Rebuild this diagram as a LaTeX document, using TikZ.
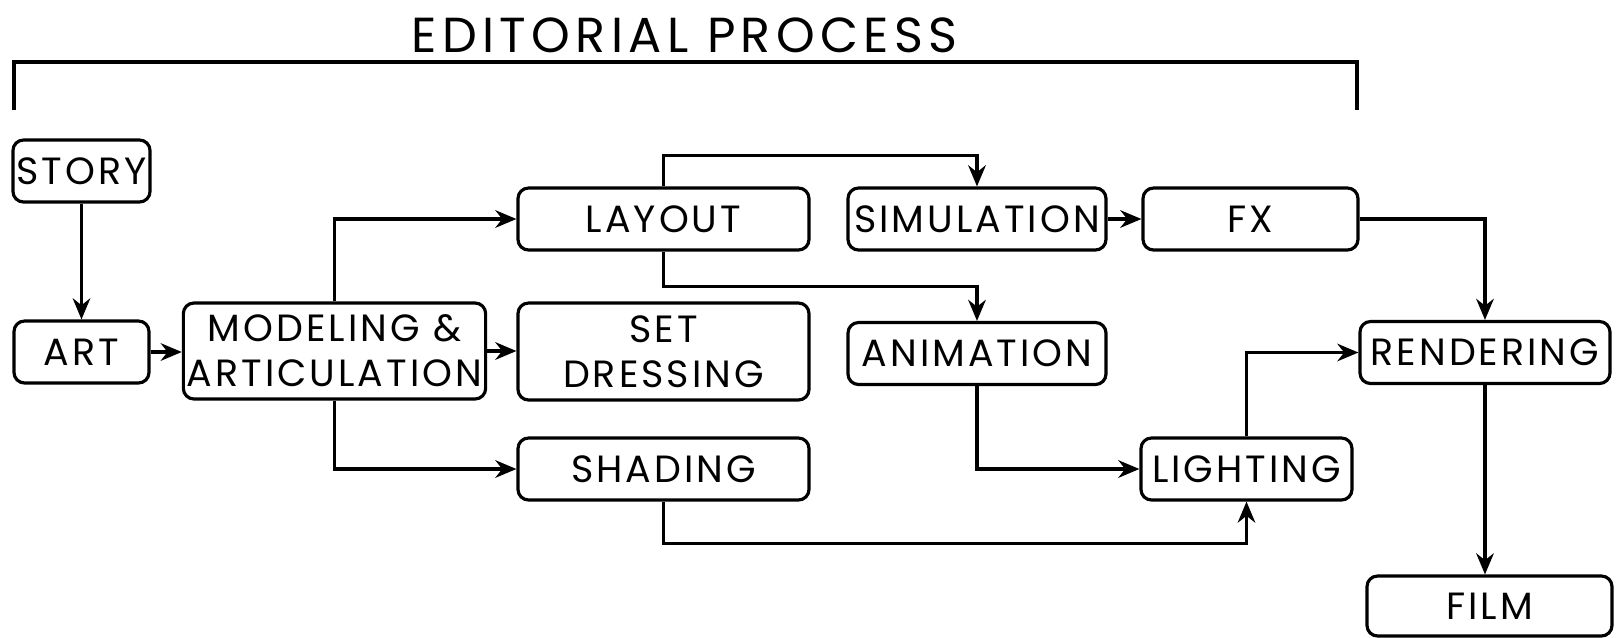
\documentclass[tikz,border=0pt]{standalone}
\usepackage{fontspec}
\setmainfont{Poppins}
\newfontfamily\boxfont[LetterSpace=8]{Poppins}
\newfontfamily\headfont[LetterSpace=11]{Poppins}
\usetikzlibrary{arrows.meta,positioning,calc}

\begin{document}
\begin{tikzpicture}[
  >=Stealth, every node/.style={font=\boxfont\fontsize{10.8pt}{12.8pt}\selectfont},
  stage/.style={draw, rounded corners=3pt, line width=0.9pt, align=center,
                inner sep=1pt, minimum height=0.62cm},
  flow/.style={-{Stealth[length=6pt,width=5pt]}, line width=0.9pt},
]
\useasboundingbox (0,0) rectangle (16.18,-6.37);
% heading and bracket
\node (title) at (6.845,-0.355) {\headfont\fontsize{14pt}{16pt}\selectfont EDITORIAL PROCESS};
\coordinate (brL) at (0.14,-1.10);
\coordinate (brR) at (13.57,-1.10);
\draw[line width=0.9pt] (brL) |- (title.south |- 0,-0.62) -| (brR);
% stages
\node[stage, minimum width=1.35cm] (story) at (0.815,-1.71) {STORY};
\node[stage, minimum width=1.35cm] (art) at (0.815,-3.52) {ART};
\node[stage, minimum width=3.01cm, minimum height=0.96cm] (model) at (3.345,-3.51)
  {MODELING \&\\ARTICULATION};
\node[stage, minimum width=2.91cm] (layout) at (6.635,-2.19) {LAYOUT};
\node[stage, minimum width=2.91cm, minimum height=0.97cm] (setdress) at (6.635,-3.515)
  {SET\\DRESSING};
\node[stage, minimum width=2.91cm] (shading) at (6.635,-4.69) {SHADING};
\node[stage, minimum width=2.58cm] (sim) at (9.77,-2.19) {SIMULATION};
\node[stage, minimum width=2.15cm] (fx) at (12.505,-2.19) {FX};
\node[stage, minimum width=2.58cm] (anim) at (9.77,-3.535) {ANIMATION};
\node[stage, minimum width=2.11cm] (light) at (12.465,-4.69) {LIGHTING};
\node[stage, minimum width=2.50cm] (render) at (14.85,-3.525) {RENDERING};
\node[stage, minimum width=2.45cm, minimum height=0.60cm] (film) at (14.895,-6.06) {FILM};
% connectors
\draw[flow] (story) -- (art);
\draw[flow] (art.east) -- (art.east -| model.west);
\draw[flow] (model.east) -- (model.east -| setdress.west);
\draw[flow] (model.north) |- (layout.west);
\draw[flow] (model.south) |- (shading.west);
\draw[flow] (layout.north) -- ++(0,0.31) -| (sim.north);
\draw[flow] (layout.south) -- ++(0,-0.35) -| (anim.north);
\draw[flow] (sim) -- (fx);
\draw[flow] (fx.east) -| (render.north);
\draw[flow] (anim.south) |- (light.west);
\draw[flow] (shading.south) -- ++(0,-0.42) -| (light.south);
\draw[flow] (light.north) |- (render.west);
\draw[flow] (render.south) -- (render.south |- film.north);
\end{tikzpicture}
\end{document}
